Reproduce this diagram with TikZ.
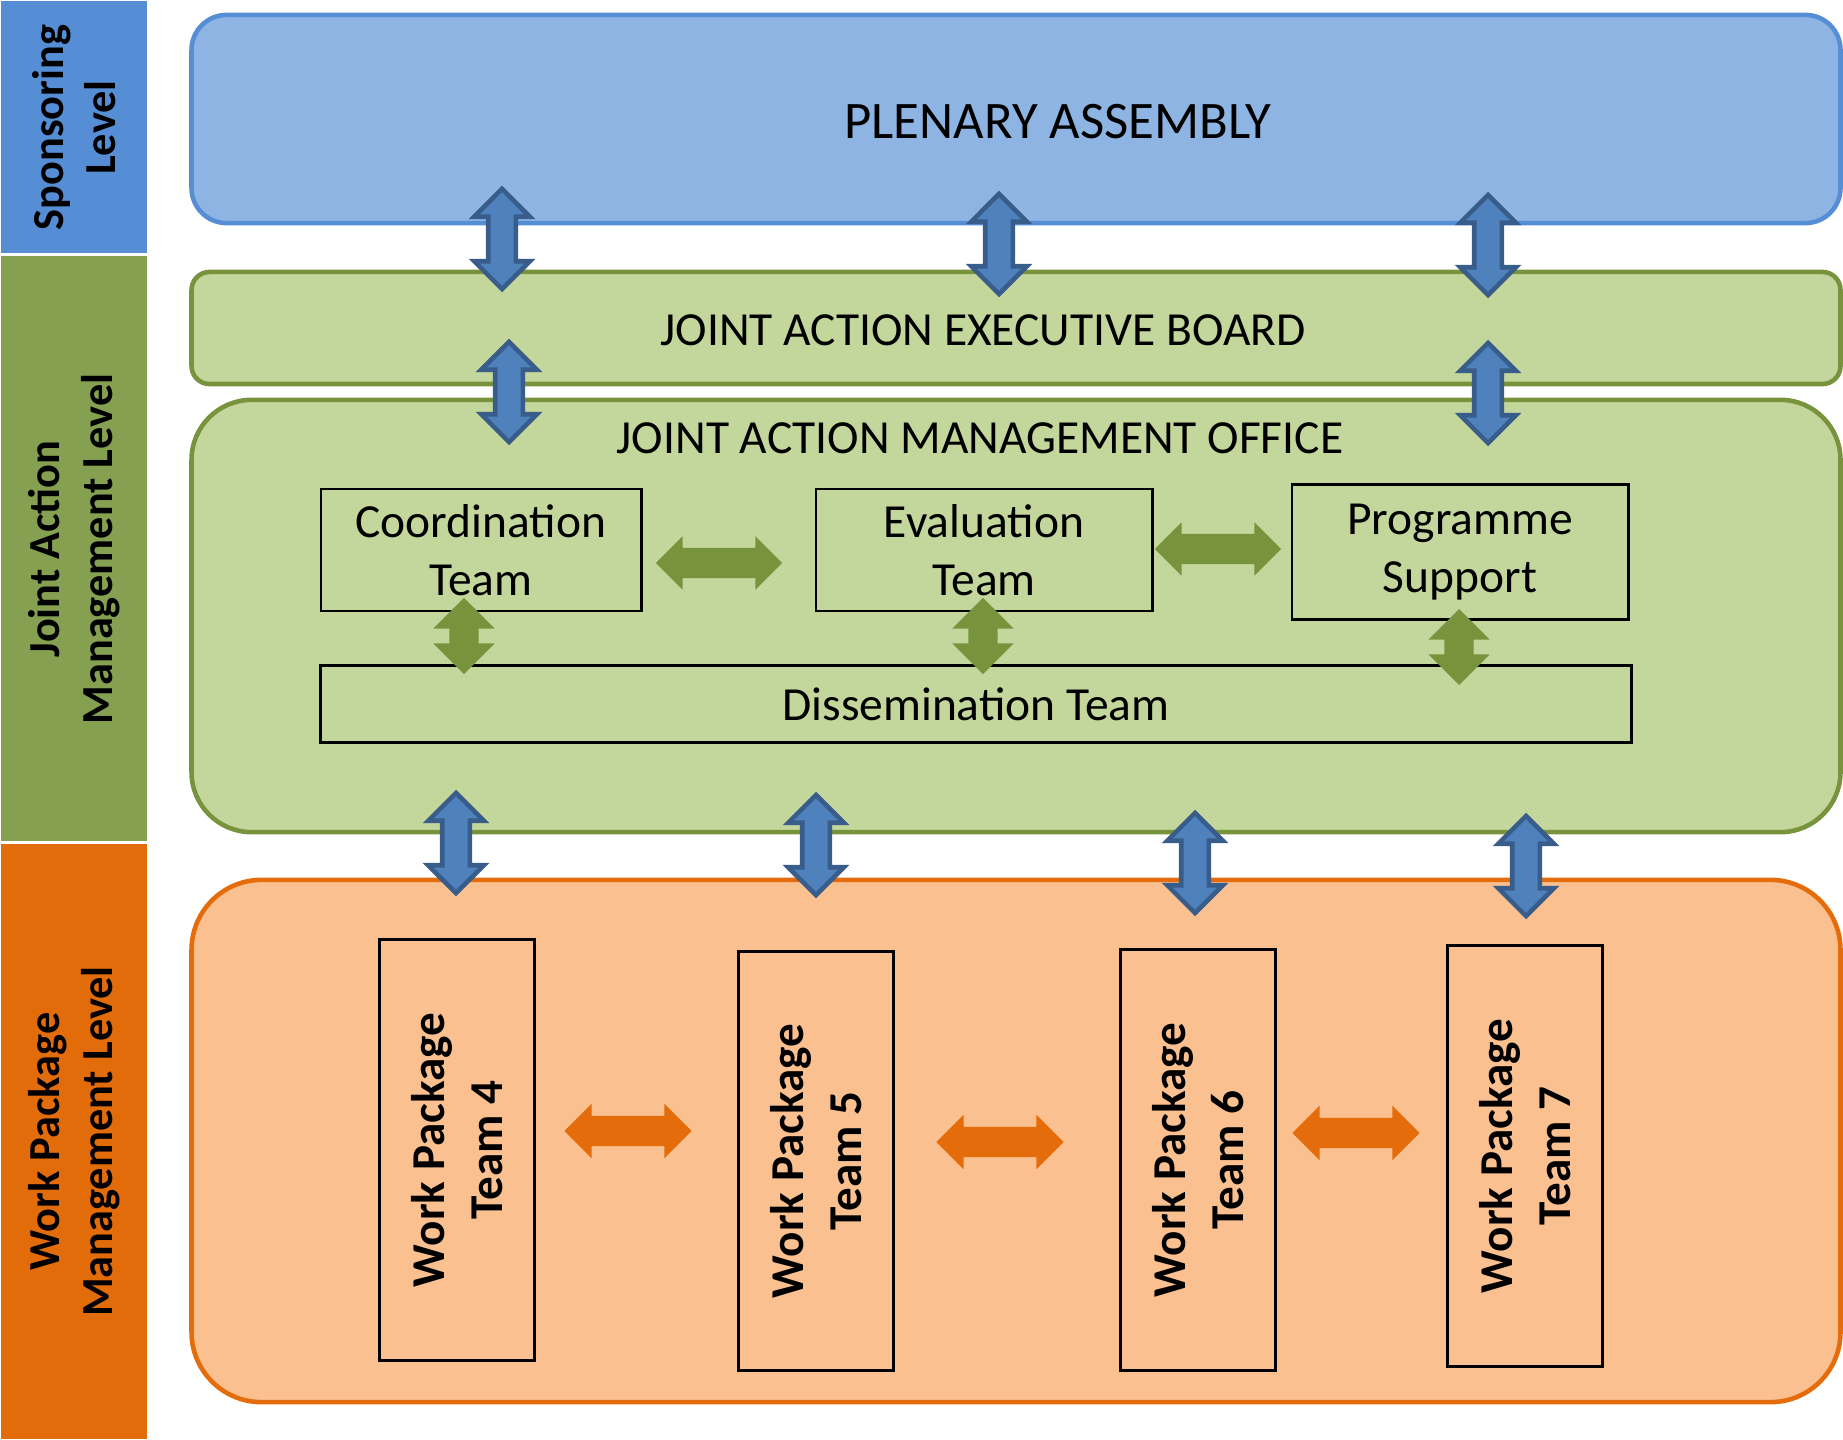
\documentclass[tikz,border=0pt]{standalone}
\usepackage{fontspec}
\setmainfont{Carlito}
\usetikzlibrary{shapes.arrows}
\definecolor{sponsorband}{HTML}{558ED5}
\definecolor{jaband}{HTML}{84A050}
\definecolor{wpband}{HTML}{E36C0A}
\definecolor{plenfill}{HTML}{8EB4E3}
\definecolor{greenfill}{HTML}{C3D69B}
\definecolor{greenline}{HTML}{77933C}
\definecolor{orangefill}{HTML}{FAC090}
\definecolor{orangeline}{HTML}{E46C0A}
\definecolor{arrblue}{HTML}{4F81BD}
\definecolor{arrbluedk}{HTML}{385D8A}
\begin{document}
\begin{tikzpicture}[
		x=0.01cm, y=-0.01cm,
		band/.style={rotate=90, inner sep=0pt, minimum height=1.48cm, draw=white, line width=0.8pt,
				font=\fontsize{12.6}{15}\selectfont\bfseries, align=center},
		levelbox/.style={rounded corners=#1, line width=1.3pt, minimum width=16.48cm, inner sep=0pt},
		title/.style={inner sep=0pt, font=\fontsize{13.5}{16}\selectfont},
		team/.style={draw=black, line width=0.8pt, inner sep=0pt, align=center, font=\fontsize{13.5}{16.5}\selectfont},
		wpteam/.style={draw=black, line width=0.8pt, inner sep=0pt, minimum width=1.55cm, align=center,
				font=\fontsize{13.3}{16.5}\selectfont\bfseries},
		wptext/.style={rotate=90, align=center, inner sep=0pt, font=\fontsize{13.4}{16.5}\selectfont\bfseries},
		bluearr/.style={double arrow, rotate=90, fill=arrblue, draw=arrbluedk, line width=1.3pt,
				inner xsep=0pt, inner ysep=0.115cm, minimum height=1cm, minimum width=0.5cm,
				double arrow head extend=0.14cm},
		greenv/.style={double arrow, rotate=90, fill=greenline, inner xsep=0pt, inner ysep=0.14cm,
				minimum height=0.76cm, minimum width=0.60cm, double arrow head extend=0.16cm},
		greenh/.style={double arrow, fill=greenline, inner xsep=0pt, inner ysep=0.145cm,
				minimum height=1.26cm, minimum width=0.52cm, double arrow head extend=0.115cm},
		orangeh/.style={double arrow, fill=orangeline, inner xsep=0pt, inner ysep=0.145cm,
				minimum height=1.27cm, minimum width=0.53cm, double arrow head extend=0.12cm}
	]
	\useasboundingbox (0,0) rectangle (1843,1440);

	\node[band, fill=sponsorband, minimum width=2.55cm] (sponsor) at (74,127.5) {Sponsoring\\Level};
	\node[band, fill=jaband, minimum width=5.88cm] (jalevel) at (74,549) {Joint Action\\Management Level};
	\node[band, fill=wpband, minimum width=5.97cm] (wplevel) at (74,1141.5) {Work Package\\Management Level};

	\node[levelbox=0.35cm, fill=plenfill, draw=sponsorband, minimum height=2.08cm] (plen) at (1016,119) {};
	\node[levelbox=0.18cm, fill=greenfill, draw=greenline, minimum height=1.12cm] (exec) at (1016,328) {};
	\node[levelbox=0.6cm, fill=greenfill, draw=greenline, minimum height=4.32cm] (office) at (1016,616) {};
	\node[levelbox=0.7cm, fill=orangefill, draw=orangeline, minimum height=5.22cm] (wparea) at (1016,1141) {};

	\node[title, font=\fontsize{15}{18}\selectfont] (plentxt) at (1058,122) {PLENARY ASSEMBLY};
	\node[title] (exectxt) at (983,330) {JOINT ACTION EXECUTIVE BOARD};
	\node[title] (officetxt) at (980,438) {JOINT ACTION MANAGEMENT OFFICE};

	\node[team, minimum width=3.2cm, minimum height=1.22cm] (coord) at (481,550) {Coordination\\Team};
	\node[team, minimum width=3.36cm, minimum height=1.22cm] (eval) at (984,550) {Evaluation\\Team};
	\node[team, minimum width=3.36cm, minimum height=1.35cm] (prog) at (1460,552) {Programme\\Support};
	\node[team, minimum width=13.1cm, minimum height=0.77cm] (diss) at (976,704) {Dissemination Team};

	\node[wpteam, minimum height=4.2cm] (wp4) at (457,1150) {};
	\node[wpteam, minimum height=4.19cm] (wp5) at (816,1161) {};
	\node[wpteam, minimum height=4.21cm] (wp6) at (1198,1160) {};
	\node[wpteam, minimum height=4.2cm] (wp7) at (1525,1156) {};
	\node[wptext] at (wp4) {Work Package\\Team 4};
	\node[wptext] at (wp5) {Work Package\\Team 5};
	\node[wptext] at (wp6) {Work Package\\Team 6};
	\node[wptext] at (wp7) {Work Package\\Team 7};

	\node[bluearr] (pe1) at (502,239) {};
	\node[bluearr] (pe2) at (999,244) {};
	\node[bluearr] (pe3) at (1488,245) {};
	\node[bluearr] (eo1) at (509,392) {};
	\node[bluearr] (eo2) at (1488,393) {};
	\node[bluearr] (ow1) at (456,843) {};
	\node[bluearr] (ow2) at (816,845) {};
	\node[bluearr] (ow3) at (1195,863) {};
	\node[bluearr] (ow4) at (1526,866) {};

	\node[greenh] (ce) at (719,563) {};
	\node[greenh] (ep) at (1218,549) {};
	\node[greenv] (cd) at (464,636) {};
	\node[greenv] (ed) at (983,636) {};
	\node[greenv] (pd) at (1459,647) {};

	\node[orangeh] (w45) at (628,1131) {};
	\node[orangeh] (w56) at (1000,1142) {};
	\node[orangeh] (w67) at (1356,1133) {};
\end{tikzpicture}
\end{document}
